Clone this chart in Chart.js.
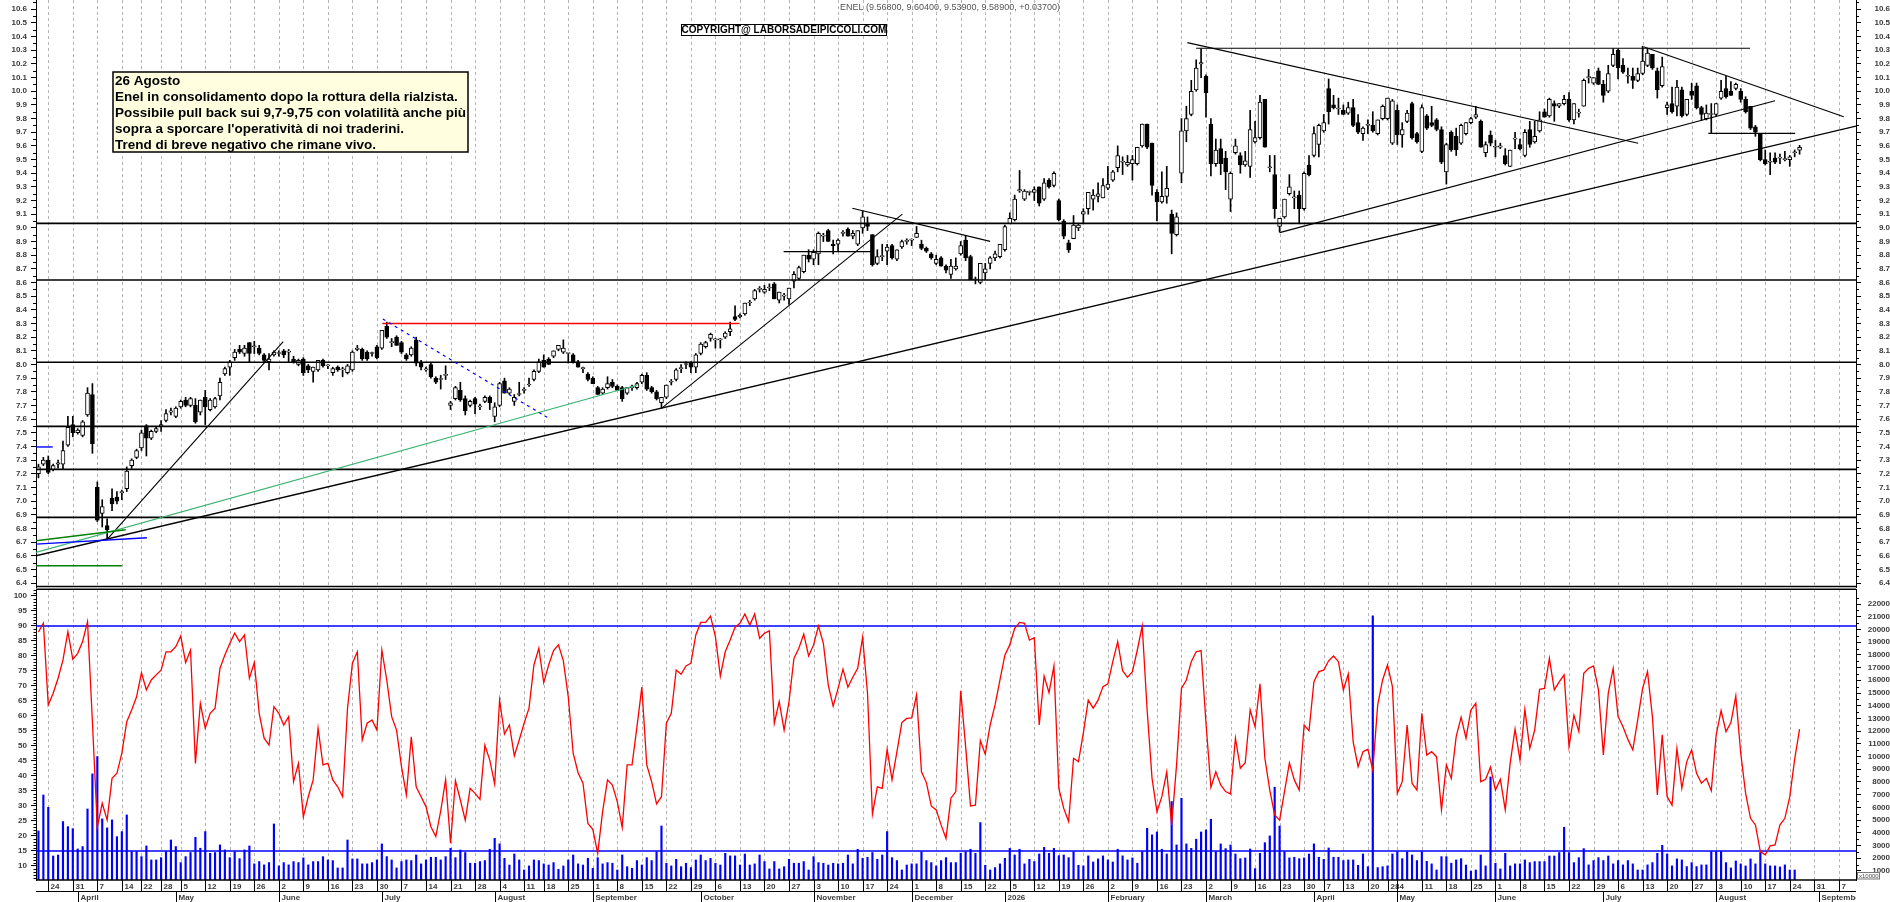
<!DOCTYPE html>
<html><head><meta charset="utf-8">
<script src="https://cdn.jsdelivr.net/npm/chart.js@4.4.1/dist/chart.umd.min.js"></script>
<style>
html,body{margin:0;padding:0;background:#fff;}
#wrap{position:relative;width:1890px;height:902px;overflow:hidden;background:#fff;}
canvas{position:absolute;left:0;}
#top{top:0;} #bot{top:588px;}
</style></head><body>
<div id="wrap"><canvas id="top" width="1890" height="588"></canvas><canvas id="bot" width="1890" height="314"></canvas></div>
<script>
// ---------------- DATA ----------------
const closedDays = ['2025-04-18','2025-04-21','2025-05-01','2025-08-15','2025-12-24','2025-12-25','2025-12-26','2025-12-31','2026-01-01','2026-04-03','2026-04-06','2026-04-24','2026-04-27','2026-04-30','2026-05-01'];
const hiddenWeekTicks = ['2025-12-29'];
const monthNames = ['January','February','March','April','May','June','July','August','September','October','November','December'];
const slotCount = 371;

const openP = [7.20,7.27,7.30,7.23,7.27,7.27,7.41,7.56,7.50,7.48,
7.63,7.78,7.10,6.91,6.82,7.02,7.03,7.06,7.09,7.26,
7.32,7.39,7.55,7.46,7.51,7.55,7.59,7.65,7.62,7.69,
7.74,7.70,7.70,7.65,7.76,7.67,7.69,7.77,7.93,7.98,
8.05,8.11,8.08,8.16,8.13,8.12,8.07,8.02,8.07,8.08,
8.10,8.09,8.04,8.00,8.04,7.99,7.95,7.96,8.03,7.99,
7.94,7.98,7.96,7.94,7.96,8.11,8.11,8.09,8.08,8.13,
8.12,8.28,8.16,8.20,8.16,8.07,8.07,8.18,8.01,7.96,
8.00,7.90,7.89,7.92,7.70,7.75,7.81,7.75,7.70,7.75,
7.69,7.73,7.76,7.62,7.70,7.88,7.79,7.73,7.78,7.81,
7.85,7.89,7.95,8.03,8.04,8.06,8.11,8.09,8.08,8.07,
8.02,7.97,7.93,7.90,7.83,7.79,7.83,7.87,7.84,7.83,
7.79,7.83,7.83,7.87,7.92,7.83,7.80,7.72,7.76,7.87,
7.89,7.97,8.00,8.01,7.98,8.08,8.13,8.19,8.18,8.18,
8.20,8.24,8.35,8.35,8.37,8.45,8.48,8.55,8.53,8.56,
8.59,8.47,8.50,8.48,8.61,8.63,8.68,8.80,8.77,8.81,
8.94,8.98,8.88,8.88,8.96,8.99,8.94,8.88,9.00,9.03,
8.95,8.74,8.79,8.83,8.87,8.77,8.86,8.90,8.91,8.93,
8.88,8.85,8.81,8.74,8.78,8.72,8.66,8.70,8.81,8.91,
8.79,8.62,8.60,8.67,8.74,8.78,8.79,8.84,9.03,9.06,
9.27,9.21,9.26,9.26,9.30,9.21,9.35,9.31,9.20,9.05,
8.89,8.92,9.00,9.10,9.14,9.21,9.23,9.22,9.29,9.35,
9.44,9.48,9.46,9.47,9.47,9.60,9.76,9.62,9.26,9.19,
9.23,9.10,8.95,9.40,9.71,9.83,10.01,10.20,10.11,9.76,
9.47,9.58,9.51,9.21,9.55,9.53,9.46,9.45,9.63,9.66,
9.94,9.44,9.39,9.01,9.08,9.25,9.22,9.24,9.14,9.46,
9.53,9.61,9.71,10.02,9.90,9.87,9.86,9.84,9.88,9.77,
9.69,9.75,9.75,9.69,9.80,9.80,9.62,9.86,9.68,9.78,
9.91,9.69,9.56,9.82,9.77,9.79,9.72,9.41,9.70,9.67,
9.62,9.69,9.77,9.81,9.78,9.55,9.68,9.59,9.59,9.53,
9.45,9.65,9.61,9.53,9.72,9.63,9.71,9.85,9.82,9.91,
9.89,9.91,9.94,9.79,9.84,9.89,10.10,10.06,10.15,10.05,
10.00,10.19,10.30,10.19,10.11,10.11,10.08,10.13,10.19,10.27,
10.15,10.04,9.88,9.91,9.89,10.01,9.83,10.00,10.04,9.88,
9.80,9.83,9.83,9.95,10.02,10.00,10.02,10.00,9.94,9.89,
9.74,9.69,9.50,9.48,9.51,9.51,9.50,9.50,9.55,9.568];

const highP = [7.27,7.32,7.33,7.27,7.30,7.44,7.62,7.62,7.53,7.59,
7.83,7.86,7.14,7.01,6.87,7.09,7.07,7.08,7.25,7.31,
7.38,7.52,7.56,7.52,7.54,7.59,7.67,7.68,7.69,7.74,
7.76,7.76,7.75,7.74,7.81,7.75,7.76,7.90,7.98,8.03,
8.11,8.14,8.14,8.16,8.17,8.14,8.08,8.08,8.10,8.10,
8.11,8.11,8.06,8.04,8.05,8.00,7.98,8.03,8.04,8.00,
7.98,7.99,7.98,8.00,8.10,8.14,8.12,8.10,8.09,8.14,
8.25,8.31,8.19,8.21,8.17,8.08,8.13,8.20,8.03,7.98,
8.01,7.91,7.92,7.99,7.73,7.84,7.87,7.77,7.74,7.76,
7.71,7.77,7.77,7.72,7.87,7.90,7.83,7.78,7.87,7.83,
7.90,7.96,8.04,8.07,8.05,8.10,8.14,8.18,8.08,8.08,
8.03,7.98,7.94,7.91,7.84,7.83,7.91,7.89,7.85,7.84,
7.83,7.85,7.87,7.93,7.94,7.84,7.81,7.76,7.85,7.89,
7.97,8.00,8.02,8.02,8.08,8.16,8.17,8.23,8.19,8.19,
8.24,8.31,8.43,8.37,8.45,8.47,8.55,8.57,8.58,8.59,
8.60,8.53,8.52,8.56,8.68,8.72,8.80,8.84,8.84,8.97,
8.96,8.99,8.91,8.92,8.98,9.00,8.98,8.98,9.12,9.08,
8.95,8.84,8.88,8.88,8.88,8.84,8.91,8.92,8.92,9.01,
8.91,8.86,8.82,8.80,8.79,8.73,8.77,8.78,8.90,8.94,
8.80,8.64,8.74,8.74,8.79,8.83,8.88,9.02,9.11,9.24,
9.42,9.28,9.27,9.30,9.30,9.36,9.36,9.41,9.21,9.06,
8.91,9.09,9.03,9.14,9.26,9.28,9.33,9.36,9.45,9.42,
9.60,9.52,9.53,9.53,9.59,9.76,9.76,9.62,9.28,9.41,
9.45,9.13,9.11,9.80,9.89,10.08,10.23,10.31,10.12,9.80,
9.65,9.65,9.56,9.41,9.65,9.55,9.56,9.86,9.78,9.97,
9.94,9.53,9.53,9.07,9.21,9.39,9.27,9.27,9.41,9.53,
9.74,9.76,9.83,10.09,9.97,9.95,9.90,9.92,9.94,9.83,
9.74,9.79,9.85,9.79,9.90,9.95,9.94,9.90,9.77,9.86,
9.92,9.70,9.90,9.83,9.89,9.80,9.74,9.62,9.71,9.73,
9.76,9.77,9.81,9.89,9.79,9.63,9.71,9.64,9.62,9.58,
9.57,9.70,9.65,9.72,9.78,9.78,9.85,9.87,9.95,9.93,
9.91,9.97,9.99,9.91,9.87,10.09,10.16,10.10,10.17,10.08,
10.19,10.31,10.31,10.24,10.17,10.17,10.17,10.33,10.31,10.27,
10.17,10.25,9.92,10.03,10.08,10.03,9.94,10.06,10.06,9.89,
9.90,9.91,9.91,10.08,10.11,10.07,10.06,10.02,9.96,9.89,
9.75,9.69,9.57,9.55,9.55,9.54,9.56,9.53,9.57,9.604];

const lowP = [7.17,7.26,7.20,7.22,7.24,7.23,7.40,7.47,7.49,7.47,
7.62,7.35,6.85,6.81,6.72,6.93,6.98,7.01,7.07,7.24,
7.31,7.37,7.33,7.45,7.50,7.51,7.58,7.63,7.61,7.68,
7.69,7.69,7.57,7.63,7.56,7.66,7.68,7.74,7.92,7.92,
8.03,8.08,8.06,8.02,8.08,8.07,8.02,7.96,8.06,8.06,
8.05,8.02,8.01,7.99,7.92,7.94,7.87,7.95,7.98,7.97,
7.92,7.95,7.91,7.93,7.95,8.10,8.03,8.03,8.06,8.04,
8.11,8.19,8.13,8.14,8.08,8.03,8.06,7.99,7.96,7.95,
7.90,7.86,7.82,7.89,7.67,7.74,7.73,7.63,7.69,7.64,
7.67,7.72,7.67,7.58,7.69,7.79,7.78,7.70,7.77,7.79,
7.84,7.88,7.94,7.98,8.00,8.05,8.10,8.08,8.01,8.01,
7.98,7.94,7.88,7.86,7.78,7.78,7.82,7.83,7.81,7.73,
7.78,7.81,7.82,7.86,7.81,7.79,7.74,7.68,7.75,7.85,
7.88,7.94,7.97,7.94,7.94,8.07,8.12,8.17,8.12,8.12,
8.19,8.21,8.32,8.34,8.36,8.43,8.47,8.53,8.52,8.54,
8.48,8.45,8.47,8.44,8.56,8.62,8.67,8.75,8.73,8.73,
8.90,8.90,8.81,8.83,8.94,8.94,8.92,8.87,8.96,8.98,
8.72,8.73,8.76,8.73,8.77,8.76,8.85,8.88,8.87,8.93,
8.84,8.82,8.77,8.73,8.72,8.67,8.63,8.69,8.80,8.76,
8.62,8.59,8.59,8.62,8.70,8.76,8.78,8.83,9.03,9.05,
9.26,9.20,9.24,9.20,9.16,9.20,9.29,9.30,9.05,8.92,
8.82,8.92,8.98,9.03,9.10,9.13,9.19,9.22,9.28,9.34,
9.41,9.39,9.45,9.35,9.46,9.59,9.58,9.24,9.05,9.18,
9.18,8.81,8.94,9.33,9.63,9.82,10.00,10.10,9.81,9.38,
9.45,9.39,9.28,9.12,9.54,9.40,9.45,9.37,9.62,9.65,
9.59,9.41,9.07,8.97,9.07,9.24,9.14,9.03,9.13,9.38,
9.52,9.52,9.70,9.76,9.87,9.83,9.83,9.83,9.74,9.69,
9.64,9.69,9.70,9.68,9.79,9.79,9.61,9.61,9.59,9.77,
9.65,9.62,9.55,9.72,9.74,9.71,9.47,9.32,9.56,9.53,
9.61,9.68,9.76,9.80,9.59,9.52,9.60,9.52,9.58,9.46,
9.45,9.58,9.57,9.52,9.59,9.62,9.70,9.81,9.81,9.78,
9.88,9.90,9.78,9.76,9.81,9.89,10.06,10.05,10.05,9.92,
9.99,10.18,10.09,10.13,10.06,10.02,10.07,10.12,10.18,10.16,
9.95,10.03,9.83,9.84,9.82,9.81,9.82,9.94,9.87,9.79,
9.79,9.69,9.82,9.94,9.95,9.97,10.01,9.92,9.84,9.72,
9.67,9.49,9.46,9.39,9.47,9.47,9.49,9.45,9.52,9.539];

const closeP = [7.25,7.30,7.21,7.26,7.28,7.37,7.54,7.50,7.52,7.58,
7.79,7.42,6.86,6.96,6.79,6.98,7.00,7.07,7.22,7.30,
7.37,7.50,7.46,7.51,7.53,7.56,7.64,7.66,7.68,7.73,
7.70,7.75,7.58,7.74,7.69,7.74,7.75,7.87,7.97,8.02,
8.09,8.09,8.12,8.08,8.13,8.08,8.03,8.04,8.09,8.08,
8.07,8.09,8.02,8.03,7.94,7.96,7.98,8.03,7.99,7.99,
7.97,7.96,7.96,7.99,8.09,8.12,8.04,8.04,8.08,8.05,
8.25,8.20,8.16,8.14,8.09,8.04,8.12,8.01,7.98,7.96,
7.91,7.87,7.89,7.92,7.72,7.83,7.74,7.66,7.73,7.71,
7.69,7.76,7.72,7.69,7.86,7.79,7.82,7.76,7.78,7.81,
7.85,7.95,8.02,7.98,8.00,8.10,8.14,8.12,8.08,8.02,
7.98,7.97,7.89,7.86,7.78,7.82,7.86,7.84,7.81,7.75,
7.83,7.83,7.86,7.92,7.82,7.80,7.75,7.76,7.85,7.87,
7.96,7.97,8.00,7.98,8.07,8.15,8.16,8.22,8.18,8.18,
8.23,8.26,8.33,8.36,8.45,8.45,8.54,8.55,8.55,8.56,
8.48,8.53,8.50,8.56,8.66,8.71,8.80,8.77,8.82,8.96,
8.94,8.90,8.87,8.91,8.96,8.94,8.96,8.98,9.08,9.01,
8.73,8.79,8.79,8.86,8.78,8.84,8.90,8.91,8.91,8.96,
8.85,8.83,8.78,8.77,8.72,8.69,8.72,8.72,8.87,8.78,
8.62,8.62,8.74,8.70,8.78,8.81,8.88,9.01,9.07,9.21,
9.28,9.27,9.26,9.28,9.18,9.33,9.30,9.40,9.06,8.94,
8.84,9.02,9.02,9.12,9.26,9.24,9.25,9.31,9.32,9.41,
9.53,9.48,9.48,9.50,9.59,9.76,9.59,9.31,9.19,9.23,
9.29,8.96,9.08,9.71,9.80,10.00,10.17,10.21,9.99,9.47,
9.57,9.47,9.41,9.40,9.60,9.46,9.49,9.72,9.66,9.92,
9.59,9.44,9.14,9.07,9.21,9.30,9.22,9.14,9.40,9.39,
9.69,9.75,9.77,9.85,9.88,9.87,9.83,9.88,9.75,9.70,
9.73,9.75,9.71,9.79,9.89,9.95,9.93,9.68,9.72,9.84,
9.66,9.63,9.88,9.73,9.75,9.72,9.48,9.61,9.57,9.57,
9.75,9.77,9.80,9.83,9.59,9.61,9.62,9.59,9.60,9.47,
9.57,9.65,9.58,9.70,9.61,9.67,9.79,9.81,9.94,9.89,
9.91,9.94,9.79,9.91,9.84,10.08,10.10,10.10,10.05,9.97,
10.13,10.27,10.17,10.14,10.11,10.08,10.13,10.22,10.28,10.17,
10.01,10.18,9.90,9.85,10.03,9.82,9.94,9.97,9.88,9.83,
9.84,9.83,9.91,10.00,9.96,9.97,10.05,9.94,9.85,9.73,
9.70,9.50,9.47,9.48,9.48,9.51,9.50,9.52,9.552,9.589];

const oscValues = [88,90.9,63.7,67.6,72.6,78.7,88.1,78.9,80.9,84.8,
91.4,58,23,30.9,25.3,39.2,40.9,47.6,58.1,62,
66.4,74.4,68.7,72,73.7,75.3,81.4,81.4,83.1,86.7,
77.8,82,44.2,64.2,55.9,60.9,62.6,75.9,80.3,84.2,
87.6,84.8,87,72.6,77.8,60.9,52.6,50.3,63.1,60.9,
57,59.8,38.1,44.2,26.4,33.1,38.7,55.9,43.7,44.2,
38.7,36.4,33.1,62.6,77.6,81.4,52,57.6,58.7,55.3,
82,72,59.8,55.3,43.1,33.7,53.1,36.4,33.1,29.8,
23.1,19.8,28.4,38.8,17.6,38.4,32,25.3,35.9,34.2,
32.2,50.3,45.3,37.3,65.3,54,57,46.7,52,57.6,
62.6,77,82.6,71.1,77,81.8,83.7,78.4,66.4,47.6,
41.1,37.6,24.2,22.2,14.2,28.1,38.7,37,31.4,22.9,
43.7,43.7,56.4,69.6,43.7,38.1,30.7,33.1,57.6,60.9,
75.3,73.9,76.7,77.6,87,91.2,91.2,93.3,86.4,73.3,
81.4,85.3,89.6,90.9,94,90.3,94,85.9,87.6,88.4,
57.6,64.8,55.3,64.8,79.2,82.6,87.3,80,83.7,90,
84.2,70.3,63.3,69.2,75.6,69.6,72.9,75.9,86.2,67.6,
27.3,36.4,35.9,48.9,38.7,48.1,57.8,59.2,59.4,67,
41.4,37.8,30,28.7,23.7,19.2,32.6,34.8,68.4,49.8,
30,30.3,51.8,47.3,57,63.7,72,80.3,83.7,89.2,
91.2,90.9,85.3,86.1,57,73.3,67.8,76.7,35.9,29.2,
24.8,45.9,44.8,54.4,65.3,62.6,65.3,69.8,70.7,78.1,
84.8,75.1,72.9,74.8,82,90,62,39.2,28.1,33.1,
41.4,23.7,43.7,69.2,72,78.1,81.4,81.8,57.6,36.2,
41.4,37,34.8,34,52.6,42.6,44.4,62,56.4,70.7,
45.9,35.3,27,25.3,34.8,44.4,38.7,35.3,57,55.1,
71.4,74.8,75.3,78.4,80,78.1,68.7,74,51.4,43.1,
48.1,48.9,42,63.7,72,77,69.8,34.2,38.1,57,
37.6,35.3,60.9,47,48.1,46.4,28.7,43.7,39.2,53.1,
59.6,52.6,62,64.2,38.1,38.9,43,35.3,38.9,28.7,
44.2,55.6,45.3,62.2,49.2,55.3,68.9,69.2,79.2,68.7,
71.4,73.7,49.8,60.3,54.8,74.2,75.9,76.7,68.7,47,
67.6,75.9,59.8,56.4,52.2,48.7,58.7,69.2,74.8,59.8,
33.7,53.7,33.1,30.3,49.2,35.9,44.8,48.7,40.9,37.6,
39.2,35.1,53.7,61.8,54.8,57.8,66.7,47.6,34.2,25.9,
23.7,14.8,13.7,16.7,17,23.7,25.9,33.1,45.6,55.6];

const volumeValues = [4150,6980,6010,2180,2260,4890,4490,4330,2735,2920,
5880,8640,10000,5100,4390,5020,3700,4100,5410,2525,
2525,2130,2970,1870,1870,2050,2525,3440,2920,1660,
2130,2450,3650,2790,4100,2390,2450,3050,2660,2050,
2525,1970,2660,2970,1560,1740,1480,1660,4700,1400,
1660,1480,1740,1660,2030,1480,1740,1740,2130,1870,
1820,1240,1240,3440,1950,1950,1560,1560,1660,1870,
3130,2130,1870,1240,1740,1870,1820,2260,1560,1870,
2080,2080,1870,2130,2780,2050,2650,2450,1610,1610,
1740,1820,2710,3570,3130,2000,1470,2340,1870,1080,
1400,1870,1820,1560,1470,1660,1130,1400,1870,2260,
1560,1470,2000,1210,2050,1560,1660,1610,1080,2260,
1340,1210,1820,1470,2050,1820,2520,4540,1610,1400,
1920,1340,1610,1270,1870,2260,1820,2000,1610,1470,
2390,2190,2190,1470,2340,1470,1560,2260,1740,1160,
1740,1160,1340,1920,1610,1610,1740,1080,2130,1660,
1610,1470,1610,1560,1610,2260,1560,2710,2000,2080,
2450,1920,2260,4100,2050,1820,1080,1470,1560,1560,
2520,1820,1660,1400,1820,2050,1660,1660,2400,2520,
2710,2390,4810,1450,1080,1270,1560,2000,2780,2260,
2710,1560,1920,1740,2340,2860,2390,2780,2210,2260,
2050,2520,1450,1400,2190,1710,1950,2190,1870,1710,
2710,2190,1870,2030,1610,2520,4360,3840,4070,2710,
2340,6460,3050,6720,3130,2780,3500,4070,4230,5070,
2520,3130,2760,3050,2340,1970,2030,2730,1190,2390,
3230,3760,7590,4540,2520,2030,2080,1970,2030,2340,
3130,2080,1920,2810,2080,2080,1820,1870,1870,1450,
2340,1340,21070,1270,1340,1400,2340,2520,1970,2520,
2260,1820,2520,1760,1560,1080,2130,2130,1610,1870,
1970,1470,1000,1080,2260,1400,8400,1610,1160,2390,
1400,1560,1560,1870,1660,1740,1740,1740,2180,2180,
2450,4440,2450,1660,2050,2760,1480,1820,2050,1820,
2180,1560,1820,1480,1820,1560,1080,1080,1480,1660,
2390,3020,2340,1400,1950,1870,1350,1660,1350,1480,
1480,2530,2530,2530,1660,1240,1790,1560,1400,1950,
1560,2450,1560,1400,1400,1320,1480,1080,1080,null];

const priceTicks = [6.4,6.5,6.6,6.7,6.8,6.9,7.0,7.1,7.2,7.3,7.4,7.5,7.6,7.7,7.8,7.9,8.0,8.1,8.2,8.3,8.4,8.5,8.6,8.7,8.8,8.9,9.0,9.1,9.2,9.3,9.4,9.5,9.6,9.7,9.8,9.9,10.0,10.1,10.2,10.3,10.4,10.5,10.6];
const oscTicks = [10,15,20,25,30,35,40,45,50,55,60,65,70,75,80,85,90,95,100];
const volTicks = [1000,2000,3000,4000,5000,6000,7000,8000,9000,10000,11000,12000,13000,14000,15000,16000,17000,18000,19000,20000,21000,22000];
const priceRange = [6.371, 10.668];
const oscRange = [5.333, 102.333];
const volRange = [292, 23180];
const oscLevels = [90, 15];

// drawn studies (index, price) pairs
const supportLevels = [9.033, 8.618, 8.016, 7.547, 7.232, 6.881];
const longTrend = [[-0.5, 6.600, 370.5, 9.745]];
const blackTrendLines = [
  [14.0, 6.72, 49.9, 8.167],
  [127.0, 7.679, 176.1, 9.101],
  [151.9, 8.826, 170.1, 8.826],
  [165.9, 9.143, 194.0, 8.901],
  [236.0, 10.315, 348.9, 10.315],
  [234.2, 10.356, 326.1, 9.619],
  [253.0, 8.965, 354.0, 9.931],
  [327.2, 10.326, 368.0, 9.814],
  [340.4, 9.692, 358.1, 9.692]
];
const lightGreenLines = [[-0.5, 6.625, 122.1, 7.85]];
const darkGreenLines = [[-0.5, 6.71, 17.8, 6.79], [-0.5, 6.527, 17.0, 6.527]];
const blueLines = [[-0.5, 6.685, 22.1, 6.732], [-0.5, 7.396, 2.9, 7.396]];
const redLines = [[70.1, 8.30, 142.9, 8.30]];
const blueDashedLines = [[70.2, 8.333, 103.7, 7.613]];

const noteLines = ['26 Agosto',
 'Enel in consolidamento dopo la rottura della rialzista.',
 'Possibile pull back sui 9,7-9,75 con volatilità anche più',
 "sopra a sporcare l'operatività di noi traderini.",
 'Trend di breve negativo che rimane vivo.'];
const copyrightText = 'COPYRIGHT@ LABORSADEIPICCOLI.COM';
const tickerName = 'ENEL';

// ---------------- CATEGORIES ----------------
function buildDates(){
  const out=[]; const d=new Date(Date.UTC(2025,2,20));
  while(out.length<slotCount){
    const wd=d.getUTCDay(); const s=d.toISOString().slice(0,10);
    if(wd!==0 && wd!==6 && !closedDays.includes(s)) out.push(s);
    d.setUTCDate(d.getUTCDate()+1);
  }
  return out;
}
const dates = buildDates();
function mondayKey(s){ const d=new Date(s+'T00:00:00Z'); const wd=(d.getUTCDay()+6)%7; d.setUTCDate(d.getUTCDate()-wd); return d.toISOString().slice(0,10); }
const weekStarts=[]; const monthStarts=[];
for(let i=1;i<dates.length;i++){
  if(mondayKey(dates[i])!==mondayKey(dates[i-1]) && !hiddenWeekTicks.includes(dates[i])) weekStarts.push(i);
  if(dates[i].slice(5,7)!==dates[i-1].slice(5,7)) monthStarts.push(i);
}

const bodyData = openP.map((o,i)=>[Math.min(o,closeP[i]), Math.max(o,closeP[i])]);
const wickData = lowP.map((l,i)=>[l, highP[i]]);
const bodyColors = openP.map((o,i)=> closeP[i] >= o ? '#ffffff' : '#000000');

Chart.defaults.font.family = '"Liberation Sans", Arial, sans-serif';
const FONT = '"Liberation Sans", Arial, sans-serif';
const LABEL_COLOR = '#3a3a3a';

function drawWeekGrid(chart){
  const {ctx, chartArea:a, scales:{x}} = chart;
  ctx.save();
  ctx.strokeStyle='#b4b4b4'; ctx.lineWidth=1; ctx.setLineDash([3,3]);
  weekStarts.forEach(i=>{
    const px=Math.round(x.getPixelForValue(i))+0.5;
    ctx.beginPath(); ctx.moveTo(px,a.top); ctx.lineTo(px,a.bottom); ctx.stroke();
  });
  ctx.restore();
}
function drawSegs(chart, segs, color, width, dash){
  const {ctx, chartArea:a, scales:{x,y}} = chart;
  ctx.save();
  ctx.beginPath(); ctx.rect(a.left,a.top,a.right-a.left,a.bottom-a.top); ctx.clip();
  ctx.strokeStyle=color; ctx.lineWidth=width; ctx.setLineDash(dash||[]);
  segs.forEach(s=>{
    ctx.beginPath();
    ctx.moveTo(x.getPixelForValue(s[0]), y.getPixelForValue(s[1]));
    ctx.lineTo(x.getPixelForValue(s[2]), y.getPixelForValue(s[3]));
    ctx.stroke();
  });
  ctx.restore();
}
function minorTicks(chart, scaleId, values, side, len){
  const {ctx, chartArea:a, scales} = chart; const s=scales[scaleId];
  ctx.save(); ctx.strokeStyle='#000'; ctx.lineWidth=1;
  values.forEach(v=>{
    const py=Math.round(s.getPixelForValue(v))+0.5;
    if(py<a.top||py>a.bottom) return;
    ctx.beginPath();
    if(side==='left'){ ctx.moveTo(a.left-len,py); ctx.lineTo(a.left,py); }
    else { ctx.moveTo(a.right,py); ctx.lineTo(a.right+len,py); }
    ctx.stroke();
  });
  ctx.restore();
}

const topDeco = {
  id:'topDeco',
  beforeDatasetsDraw(chart){ drawWeekGrid(chart); },
  afterDatasetsDraw(chart){
    const {chartArea:a} = chart;
    drawSegs(chart, supportLevels.map(v=>[-1, v, slotCount, v]), '#000', 1.6);
    drawSegs(chart, longTrend, '#000', 1.4);
    drawSegs(chart, blackTrendLines, '#000', 1.1);
    drawSegs(chart, lightGreenLines, '#3cb371', 1.2);
    drawSegs(chart, darkGreenLines, '#008000', 1.4);
    drawSegs(chart, blueLines, '#0000ff', 1.4);
    drawSegs(chart, redLines, '#ff0000', 1.4);
    drawSegs(chart, blueDashedLines, '#0000ff', 1.2, [3,4]);
  },
  afterDraw(chart){
    const {ctx, chartArea:a, scales:{y}} = chart;
    const mt=[]; priceTicks.forEach(v=>mt.push(v+0.05)); mt.push(priceTicks[0]-0.05+0);
    minorTicks(chart,'y',mt,'left',3); minorTicks(chart,'y1',mt,'right',3);
    ctx.save();
    ctx.strokeStyle='#000'; ctx.lineWidth=1.5;
    ctx.beginPath(); ctx.moveTo(a.left,a.bottom-0.5); ctx.lineTo(a.right,a.bottom-0.5); ctx.stroke();
    // header
    const n=openP.length-1;
    const chg=closeP[n]-closeP[n-1];
    const header=`${tickerName} (${openP[n].toFixed(5)}, ${highP[n].toFixed(5)}, ${lowP[n].toFixed(5)}, ${closeP[n].toFixed(5)}, ${chg>=0?'+':''}${chg.toFixed(5)})`;
    ctx.font='9px '+FONT; ctx.fillStyle='#555'; ctx.textBaseline='middle'; ctx.textAlign='left';
    ctx.fillText(header, 840, 8);
    // copyright
    ctx.fillStyle='#fff'; ctx.fillRect(681,24,206,12);
    ctx.lineWidth=1; ctx.strokeStyle='#000'; ctx.strokeRect(681.5,24.5,205,11);
    ctx.font='bold 10px '+FONT; ctx.fillStyle='#000'; ctx.textAlign='center';
    ctx.fillText(copyrightText, 784, 30.5);
    // note box
    ctx.fillStyle='#ffffe0'; ctx.fillRect(113,72,355,80);
    ctx.lineWidth=1.5; ctx.strokeStyle='#000'; ctx.strokeRect(113,72,355,80);
    ctx.font='bold 13px '+FONT; ctx.fillStyle='#000'; ctx.textAlign='left'; ctx.textBaseline='alphabetic';
    const sx = 351/ctx.measureText(noteLines[2]).width;
    noteLines.forEach((t,k)=>{ ctx.save(); ctx.translate(115, 85+k*16); ctx.scale(sx,1); ctx.fillText(t,0,0); ctx.restore(); });
    ctx.restore();
  }
};

const botDeco = {
  id:'botDeco',
  beforeDatasetsDraw(chart){
    drawWeekGrid(chart);
    const {ctx, chartArea:a, scales:{y}} = chart;
    ctx.save(); ctx.strokeStyle='#0000ff'; ctx.lineWidth=1.5;
    oscLevels.forEach(v=>{ const py=y.getPixelForValue(v); ctx.beginPath(); ctx.moveTo(a.left,py); ctx.lineTo(a.right,py); ctx.stroke(); });
    ctx.restore();
  },
  afterDraw(chart){
    const {ctx, chartArea:a, scales:{x}} = chart;
    const om=[]; for(let v=6; v<=102; v++){ if(v%5!==0) om.push(v); }
    minorTicks(chart,'y',om,'left',2.5);
    minorTicks(chart,'y2',volTicks.map(v=>v+500).concat([500]),'right',3);
    ctx.save();
    ctx.strokeStyle='#000'; ctx.lineWidth=1.5;
    ctx.beginPath(); ctx.moveTo(a.left,a.top+0.25); ctx.lineTo(a.right,a.top+0.25); ctx.stroke();
    ctx.beginPath(); ctx.moveTo(a.left,a.bottom); ctx.lineTo(a.right,a.bottom); ctx.stroke();
    ctx.lineWidth=1;
    ctx.beginPath(); ctx.moveTo(a.left,a.bottom+11.5); ctx.lineTo(a.right,a.bottom+11.5); ctx.stroke();
    // x10000 box
    ctx.fillStyle='#fff'; ctx.fillRect(a.right+1,a.bottom-8,23,7);
    ctx.strokeStyle='#777'; ctx.strokeRect(a.right+1.5,a.bottom-7.5,22,6.5);
    ctx.font='6px '+FONT; ctx.fillStyle='#444'; ctx.textBaseline='middle'; ctx.textAlign='left';
    ctx.fillText('x10000', a.right+3, a.bottom-4);
    // x labels
    ctx.beginPath(); ctx.rect(a.left, a.bottom, a.right-a.left, 30); ctx.clip();
    ctx.strokeStyle='#000'; ctx.lineWidth=1;
    ctx.font='bold 8px '+FONT; ctx.fillStyle=LABEL_COLOR; ctx.textBaseline='middle'; ctx.textAlign='left';
    weekStarts.forEach(i=>{
      const px=Math.round(x.getPixelForValue(i))+0.5;
      ctx.beginPath(); ctx.moveTo(px,a.bottom); ctx.lineTo(px,a.bottom+11.5); ctx.stroke();
      ctx.fillText(String(parseInt(dates[i].slice(8,10),10)), px+2, a.bottom+6.5);
    });
    monthStarts.forEach(i=>{
      const px=Math.round(x.getPixelForValue(i))+0.5;
      ctx.beginPath(); ctx.moveTo(px,a.bottom+11.5); ctx.lineTo(px,a.bottom+23); ctx.stroke();
      const m=parseInt(dates[i].slice(5,7),10)-1;
      const txt = m===0 ? dates[i].slice(0,4) : monthNames[m];
      ctx.fillText(txt, px+2, a.bottom+17.5);
    });
    ctx.restore();
  }
};

function yAxis(pos, range, ticks, fmt, padding, width){
  return {
    position:pos, min:range[0], max:range[1],
    afterFit(s){ s.width=width; s.paddingTop=0; s.paddingBottom=0; },
    afterBuildTicks(s){ s.ticks = ticks.map(v=>({value:v})); },
    ticks:{ callback:fmt, autoSkip:false, font:{size:8, weight:'bold'}, color:LABEL_COLOR, padding:padding, crossAlign: pos==='right'?'far':'near' },
    grid:{ drawOnChartArea:false, drawTicks:true, tickLength:5, color:'#000' },
    border:{ display:true, color:'#000', width:1 }
  };
}

new Chart(document.getElementById('top'), {
  type:'bar',
  data:{ labels:dates, datasets:[
    {label:'body', data:bodyData, backgroundColor:bodyColors, borderColor:'#000', borderWidth:1, borderSkipped:false, barThickness:4, grouped:false, order:0, minBarLength:1, yAxisID:'y'},
    {label:'wick', data:wickData, backgroundColor:'#000', borderWidth:0, barThickness:1, grouped:false, order:1, yAxisID:'y'}
  ]},
  options:{
    responsive:false, animation:false, devicePixelRatio:1,
    layout:{padding:{top:0,bottom:1,left:0,right:0}},
    plugins:{legend:{display:false}, tooltip:{enabled:false}},
    scales:{
      x:{type:'category', offset:true, display:false, grid:{display:false}},
      y: yAxis('left', priceRange, priceTicks, v=>v.toFixed(1), 4, 36),
      y1: yAxis('right', priceRange, priceTicks, v=>v.toFixed(1), 11, 34)
    }
  },
  plugins:[topDeco]
});

new Chart(document.getElementById('bot'), {
  type:'bar',
  data:{ labels:dates, datasets:[
    {type:'line', label:'osc', data:oscValues, borderColor:'#ff0000', borderWidth:1.3, pointRadius:0, tension:0, yAxisID:'y', order:0},
    {type:'bar', label:'vol', data:volumeValues, backgroundColor:'#0000ff', barThickness:1.5, grouped:false, yAxisID:'y2', order:1}
  ]},
  options:{
    responsive:false, animation:false, devicePixelRatio:1,
    layout:{padding:{top:1,bottom:22,left:0,right:0}},
    plugins:{legend:{display:false}, tooltip:{enabled:false}},
    scales:{
      x:{type:'category', offset:true, display:false, grid:{display:false}},
      y: yAxis('left', oscRange, oscTicks, v=>String(v), 4, 36),
      y2: yAxis('right', volRange, volTicks, v=>String(v), 3, 34)
    }
  },
  plugins:[botDeco]
});
</script>
</body></html>
